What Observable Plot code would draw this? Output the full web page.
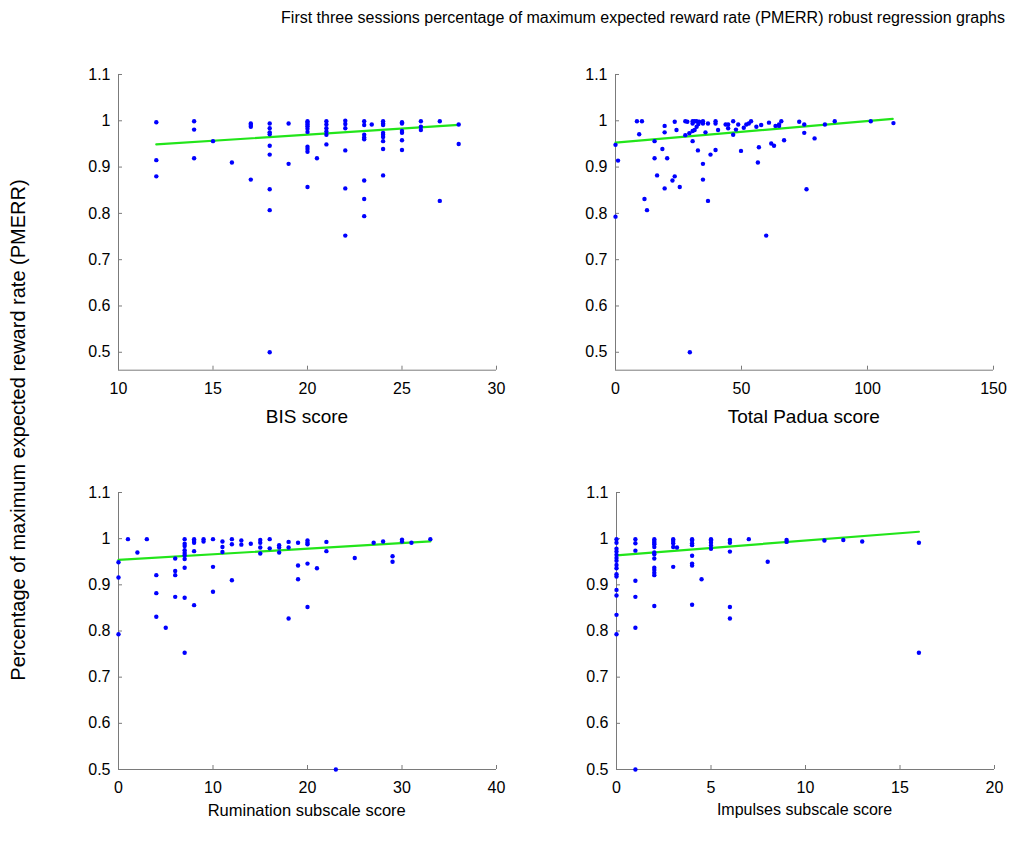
<!DOCTYPE html>
<html><head><meta charset="utf-8">
<script src="https://cdn.jsdelivr.net/npm/d3@7"></script>
<script src="https://cdn.jsdelivr.net/npm/@observablehq/plot@0.6"></script>
<style>
body{margin:0;background:#fff;}
#root{position:relative;width:1013px;height:848px;font-family:"Liberation Sans",Arial,Helvetica,sans-serif;color:#000;overflow:hidden;}
.lbl{position:absolute;white-space:nowrap;transform:translate(-50%,-50%);font-size:16px;}
.panel{position:absolute;}
</style></head><body><div id="root"></div>
<script>
// ---- Data ----
const title = "First three sessions percentage of maximum expected reward rate (PMERR) robust regression graphs";
const yLabel = "Percentage of maximum expected reward rate (PMERR)";
const yTicks = [0.5, 0.6, 0.7, 0.8, 0.9, 1, 1.1];

// Panel 1: BIS score
const bisLabel = "BIS score";
const bisTicks = [10, 15, 20, 25, 30];
const bisX = [12,12,12, 14,14,14, 15, 16, 17,17,17,17,
  18,18,18,18,18,18,18,18,18, 19,19,
  20,20,20,20,20,20,20,20,20,20, 20.5,
  21,21,21,21,21,21, 22,22,22,22,22,22,
  23,23,23,23,23,23,23,23, 23.4,
  24,24,24,24,24,24,24,24,24, 25,25,25,25,25,25, 26,26,26, 27,27, 28,28];
const bisY = [0.997,0.915,0.880, 0.999,0.981,0.919, 0.956, 0.910, 0.994,0.991,0.987,0.873,
  0.994,0.984,0.975,0.971,0.946,0.927,0.852,0.807,0.500, 0.994,0.907,
  0.999,0.996,0.992,0.988,0.983,0.976,0.944,0.939,0.933,0.857, 0.919,
  0.999,0.992,0.984,0.977,0.970,0.949, 1.000,0.993,0.984,0.936,0.854,0.752,
  0.999,0.991,0.970,0.964,0.960,0.871,0.831,0.794, 0.992,
  0.999,0.994,0.991,0.974,0.970,0.965,0.956,0.939,0.882, 0.997,0.994,0.978,0.974,0.958,0.937, 0.999,0.987,0.980, 0.999,0.827, 0.992,0.950];
const bisFitX = [12, 28];
const bisFitY = [0.949, 0.991];

// Panel 2: Total Padua score
const paduaLabel = "Total Padua score";
const paduaTicks = [0, 50, 100, 150];
const paduaX = [0,1,0,8.5,10.5,9.4,11.5,12.5,15.5,15.5,16.5,18.6,19.5,19.5,20.5,19.5,22.6,23.5,23.5,24.2,25.5,
  27.7,28.5,27.7,29.3,30.6,30.6,31.4,32.2,32.9,33.2,30.6,31.4,32.2,30.6,32.7,34.7,34.7,34.7,34.7,35.7,36.7,36.7,37.7,
  39.7,39.7,39.7,40.7,43.7,44.7,44.7,46.7,46.7,47.8,48.7,49.8,50.9,51.9,52.9,53.8,55.9,56.5,56.9,57.8,59.8,60.9,
  61.8,62.9,63.5,64.9,64.9,65.8,66.9,72.9,74.9,74.9,75.8,79,83.1,87,101.3,110.3,29.5];
const paduaY = [0.948,0.914,0.793,0.999,0.999,0.971,0.831,0.807,0.956,0.919,0.882,0.939,0.989,0.975,0.919,0.854,0.871,0.880,0.998,0.980,0.857,
  0.999,0.998,0.969,0.973,0.999,0.994,0.999,0.999,0.993,0.998,0.978,0.980,0.987,0.956,0.936,0.999,0.994,0.907,0.873,0.975,0.994,0.827,0.927,
  0.999,0.994,0.937,0.980,0.992,0.992,0.984,0.999,0.970,0.981,0.992,0.935,0.985,0.992,0.994,0.999,0.987,0.910,0.943,0.991,0.752,0.996,
  0.951,0.946,0.989,0.989,0.992,0.999,0.958,0.998,0.992,0.974,0.852,0.962,0.992,0.999,0.999,0.995,0.500];
const paduaFitX = [0, 110];
const paduaFitY = [0.953, 1.004];

// Panel 3: Rumination subscale score
const rumLabel = "Rumination subscale score";
const rumTicks = [0, 10, 20, 30, 40];
const rumX = [0,0,0,1,2,3,4,4,4,5,6,6,6,6,7,7,7,7,7,7,7,7,7,7,8,8,8,8,8,9,9,10,10,10,11,11,11,12,12,12,13,13,14,
  15,15,15,15,16,16,17,17,17,18,18,18,19,19,19,20,20,20,20,20,21,22,22,23,25,27,28,29,29,30,30,31,33];
const rumY = [0.949,0.916,0.793,0.999,0.970,0.999,0.921,0.882,0.831,0.807,0.957,0.930,0.921,0.874,
  0.999,0.989,0.984,0.975,0.969,0.964,0.956,0.937,0.872,0.753,0.999,0.995,0.991,0.973,0.856,0.999,0.994,
  0.999,0.939,0.885,0.994,0.982,0.971,0.999,0.988,0.910,0.996,0.987,0.989,
  0.997,0.991,0.981,0.968,0.999,0.979,0.986,0.981,0.970,0.993,0.981,0.827,0.991,0.942,0.912,
  0.996,0.991,0.988,0.946,0.852,0.936,0.993,0.973,0.500,0.958,0.991,0.994,0.962,0.950,0.998,0.994,0.991,0.999];
const rumFitX = [0, 33];
const rumFitY = [0.954, 0.994];

// Panel 4: Impulses subscale score
const impLabel = "Impulses subscale score";
const impTicks = [0, 5, 10, 15, 20];
const impX = [0,0,0,0,0,0,0,0,0,0,0,0,0,0,0, 1,1,1,1,1,1,1, 2,2,2,2,2,2,2,2,2,2,2,2,2,
  3,3,3,3,3,3.2, 4,4,4,4,4,4,4,4, 4.5, 5,5,5,5,5, 6,6,6,6,6, 7, 8, 9,9, 11, 12, 13, 16,16];
const impY = [0.999,0.991,0.978,0.972,0.965,0.958,0.952,0.943,0.936,0.923,0.918,0.889,0.877,0.835,0.793,
  0.999,0.990,0.974,0.909,0.874,0.807,0.500,
  0.999,0.995,0.991,0.988,0.982,0.970,0.966,0.957,0.937,0.932,0.926,0.921,0.854,
  0.999,0.995,0.990,0.982,0.939,0.981, 0.999,0.996,0.990,0.986,0.963,0.946,0.942,0.857, 0.912,
  0.999,0.996,0.991,0.985,0.978, 0.997,0.991,0.972,0.852,0.827, 0.999, 0.950, 0.997,0.993, 0.996, 0.997, 0.994, 0.991,0.753];
const impFitX = [0, 16];
const impFitY = [0.964, 1.015];

// ---- Layout ----
const root = document.getElementById("root");
const FONT = '"Liberation Sans",Arial,Helvetica,sans-serif';
const W = 378;
const panels = [
  {xs: bisX, ys: bisY, fx: bisFitX, fy: bisFitY, xd: [10, 30], xt: bisTicks, label: bisLabel, left: 118, top: 74.3, h: 295.7, yd: [0.4613, 1.1], ly: 417, fs: 19},
  {xs: paduaX, ys: paduaY, fx: paduaFitX, fy: paduaFitY, xd: [0, 150], xt: paduaTicks, label: paduaLabel, left: 614.8, top: 74.3, h: 295.7, yd: [0.4613, 1.1], ly: 417, fs: 19},
  {xs: rumX, ys: rumY, fx: rumFitX, fy: rumFitY, xd: [0, 40], xt: rumTicks, label: rumLabel, left: 117.7, top: 491.5, h: 277, yd: [0.5, 1.1], ly: 810, fs: 16.5},
  {xs: impX, ys: impY, fx: impFitX, fy: impFitY, xd: [0, 20], xt: impTicks, label: impLabel, left: 615.5, top: 491.5, h: 277, yd: [0.5, 1.1], ly: 810, fs: 16}
];
const mL = 50, mR = 14, mT = 14, mB = 40;
const axisColor = "#7a7a7a";
for (const p of panels) {
  const pts = p.xs.map((x, i) => ({x, y: p.ys[i]}));
  const fit = p.fx.map((x, i) => ({x, y: p.fy[i]}));
  const chart = Plot.plot({
    width: W + mL + mR, height: p.h + mT + mB,
    marginLeft: mL, marginRight: mR, marginTop: mT, marginBottom: mB,
    style: {fontFamily: FONT, fontSize: "16px", color: "#000", background: "transparent", overflow: "visible"},
    x: {domain: p.xd, ticks: p.xt, tickSize: 0, tickPadding: 12, label: null},
    y: {domain: p.yd, ticks: yTicks, tickSize: 0, tickPadding: 8, label: null, tickFormat: d => String(+d.toFixed(1))},
    marks: [
      Plot.ruleX([p.xd[0]], {stroke: axisColor, strokeWidth: 1}),
      Plot.ruleY([p.yd[0]], {stroke: axisColor, strokeWidth: 1}),
      Plot.tickY(yTicks, {y: d => d, insetRight: W - 4, stroke: axisColor}),
      Plot.tickX(p.xt, {x: d => d, insetTop: p.h - 4, stroke: axisColor}),
      Plot.line(fit, {x: "x", y: "y", stroke: "#22e51a", strokeWidth: 2.2}),
      Plot.dot(pts, {x: "x", y: "y", r: 2.2, fill: "#0000ff", stroke: "none"})
    ]
  });
  const wrap = document.createElement("div");
  wrap.className = "panel";
  wrap.style.left = (p.left - mL) + "px";
  wrap.style.top = (p.top - mT) + "px";
  wrap.appendChild(chart);
  root.appendChild(wrap);
  const lab = document.createElement("div");
  lab.className = "lbl";
  lab.textContent = p.label;
  lab.style.fontSize = p.fs + "px";
  lab.style.left = (p.left + W / 2) + "px";
  lab.style.top = p.ly + "px";
  root.appendChild(lab);
}
const t = document.createElement("div");
t.className = "lbl";
t.style.fontSize = "16px";
t.textContent = title;
t.style.left = "643px"; t.style.top = "18px";
root.appendChild(t);
const yl = document.createElement("div");
yl.className = "lbl";
yl.textContent = yLabel;
yl.style.fontSize = "20px";
yl.style.left = "18px"; yl.style.top = "430px";
yl.style.transform = "translate(-50%,-50%) rotate(-90deg)";
root.appendChild(yl);
</script></body></html>
